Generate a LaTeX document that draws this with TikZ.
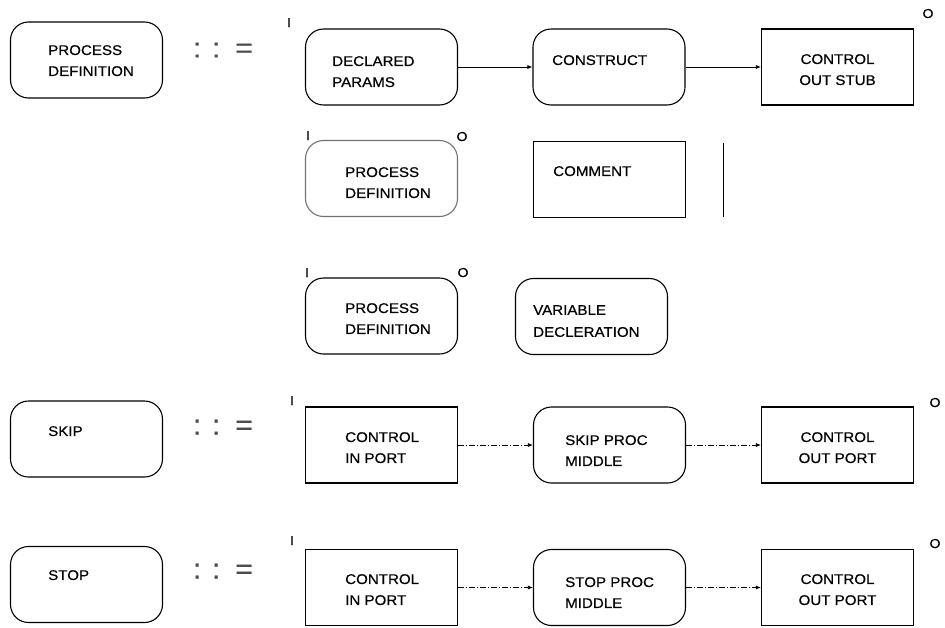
\documentclass[tikz,border=0pt]{standalone}
\usepackage{fontspec}
\setmainfont{Liberation Sans}[FakeStretch=1.08, FakeBold=0.5]
\usetikzlibrary{arrows.meta}
\begin{document}
\begin{tikzpicture}[x=1pt,y=-1pt,
  box/.style={draw, line width=1.1pt, inner sep=0pt, minimum width=152pt, minimum height=76pt},
  rbox/.style={box, rounded corners=18pt},
  sbox/.style={box},
  lbl/.style={anchor=north west, inner sep=0pt, align=left, font=\fontsize{14}{21}\selectfont},
  clbl/.style={anchor=north, inner sep=0pt, align=center, font=\fontsize{14}{21}\selectfont},
  io/.style={anchor=base, inner sep=0pt, font=\fontsize{13}{13}\selectfont},
  defsym/.style={anchor=base west, inner sep=0pt, font=\fontsize{28}{28}\selectfont, text=black!70},
  flow/.style={-{Latex[length=5pt,width=4pt]}, line width=0.7pt},
  dflow/.style={flow, dash pattern=on 6pt off 2pt on 1pt off 2pt},
]
\useasboundingbox (0,0) rectangle (945,627);

% ---- PROCESS DEFINITION ::= ...
\node[rbox] (pdL) at (86.5,60) {};
\node[lbl] (pdLt) at (48,45) {PROCESS\\DEFINITION};
\node[defsym] (def1) at (192.8,57.4) {:\hspace{10.5pt}:\hspace{15pt}=};
\node[io] (in1) at (289,27) {I};
\node[io] (out1) at (928,18) {O};

\node[rbox] (dp) at (381.5,67) {};
\node[lbl] (dpt) at (332,56) {DECLARED\\PARAMS};
\node[rbox] (cons) at (609,67) {};
\node[lbl] (const) at (552,55) {CONSTRUCT};
\node[sbox] (cos) at (837.5,67) {};
\node[clbl] (cost) at (837.5,54) {CONTROL\\OUT STUB};
\draw[flow] (dp) -- (cons);
\draw[flow] (cons) -- (cos);

% construct alternatives
\node[io] (in2) at (308,140) {I};
\node[io] (out2) at (462,141) {O};
\node[rbox, draw=black!55] (pd2) at (381.5,178.5) {};
\node[lbl] (pd2t) at (345,167) {PROCESS\\DEFINITION};
\node[sbox] (cmt) at (609.5,179.5) {};
\node[lbl] (cmtt) at (553,166) {COMMENT};
\coordinate (vt) at (723,143);
\coordinate (vb) at (723,217);
\draw[line width=0.9pt] (vt) -- (vb);

\node[io] (in3) at (307,277) {I};
\node[io] (out3) at (463,277) {O};
\node[rbox] (pd3) at (381.5,316) {};
\node[lbl] (pd3t) at (345,303) {PROCESS\\DEFINITION};
\node[rbox] (var) at (591.5,316.5) {};
\node[lbl, font=\fontsize{14}{22}\selectfont] (vart) at (533,305) {VARIABLE\\DECLERATION};

% ---- SKIP ::= ...
\node[rbox] (skipL) at (86.5,439) {};
\node[lbl] (skipLt) at (48,426) {SKIP};
\node[defsym] (def4) at (192.8,434.5) {:\hspace{10.5pt}:\hspace{15pt}=};
\node[io] (in4) at (292,405) {I};
\node[io] (out4) at (935,407) {O};

\node[sbox] (cip4) at (381.5,445) {};
\node[lbl] (cip4t) at (345,432) {CONTROL\\IN PORT};
\node[rbox] (spm) at (609.5,445) {};
\node[lbl] (spmt) at (565,435) {SKIP PROC\\MIDDLE};
\node[sbox] (cop4) at (837.5,445) {};
\node[clbl] (cop4t) at (837.5,432) {CONTROL\\OUT PORT};
\draw[dflow] (cip4) -- (spm);
\draw[dflow] (spm) -- (cop4);

% ---- STOP ::= ...
\node[rbox] (stopL) at (86.5,584.5) {};
\node[lbl] (stopLt) at (48,570) {STOP};
\node[defsym] (def5) at (192.8,578.5) {:\hspace{10.5pt}:\hspace{15pt}=};
\node[io] (in5) at (292,545) {I};
\node[io] (out5) at (935,548) {O};

\node[sbox] (cip5) at (381.5,587.5) {};
\node[lbl] (cip5t) at (345,574) {CONTROL\\IN PORT};
\node[rbox] (stpm) at (609.5,587.5) {};
\node[lbl] (stpmt) at (565,577) {STOP PROC\\MIDDLE};
\node[sbox] (cop5) at (837.5,587.5) {};
\node[clbl] (cop5t) at (837.5,574) {CONTROL\\OUT PORT};
\draw[dflow] (cip5) -- (stpm);
\draw[dflow] (stpm) -- (cop5);
\end{tikzpicture}
\end{document}
